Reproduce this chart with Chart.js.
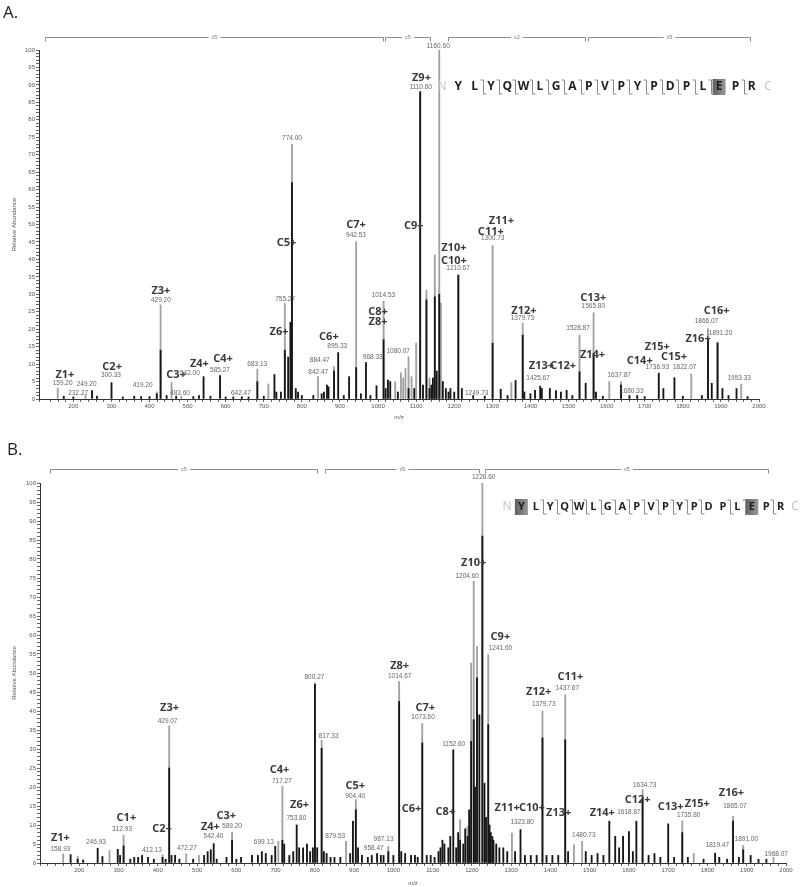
<!DOCTYPE html>
<html>
<head>
<meta charset="utf-8">
<script src="https://cdn.jsdelivr.net/npm/chart.js@4.4.1/dist/chart.umd.min.js"></script>
<style>
body { margin: 0; background: #fff; font-family: "Open Sans", sans-serif; }
#page { position: relative; width: 800px; height: 887px; overflow: hidden; }
.panel { position: absolute; left: 0; width: 800px; }
.tag { position: absolute; font-size: 17px; color: #222; z-index: 2; }
</style>
</head>
<body>
<div id="page">
  <div class="panel" style="top:0;height:430px"><canvas id="specA" width="800" height="430"></canvas></div>
  <div class="panel" style="top:440px;height:447px"><canvas id="specB" width="800" height="447"></canvas></div>
  <div class="tag" style="left:3px;top:0px">A.</div>
  <div class="tag" style="left:7px;top:437px">B.</div>
</div>
<script>
// peaks: [m/z, grey stick height, black profile height] in % relative abundance
const peaksA = [
  [159.2, 3.1, 0], [175, 0, 0.8], [200, 0, 0.6], [232.27, 1.2, 0], [249.2, 0, 2.4], [262, 0, 0.8],
  [300.33, 0, 4.7], [330, 0, 0.6], [360, 0, 0.8], [378, 0, 0.7], [400, 0, 0.7], [419.2, 2.0, 1.5],
  [429.2, 27, 14], [445, 0, 1], [458, 4.7, 0], [470, 0, 0.8], [483.6, 0.8, 0], [515, 0, 0.7],
  [530, 0, 1], [542.0, 0, 6.4], [560, 0, 0.8], [585.27, 0, 6.7], [600, 0, 0.6], [620, 0, 0.6],
  [642.47, 0.8, 0.5], [660, 0, 0.6], [683.13, 8.6, 5], [700, 0, 0.8], [712, 4.3, 0], [728, 0, 7],
  [733, 0, 2], [745, 0, 2], [755.27, 27.4, 14], [764, 0, 12], [770, 0, 22], [774.0, 73, 62],
  [784, 0, 3], [790, 0, 2], [800, 0, 1], [830, 0, 1], [842.47, 6.4, 0], [852, 0, 1.5], [858, 0, 2],
  [866, 0, 4], [870, 0, 3.5], [884.47, 9.3, 8], [895.33, 0, 13.3], [910, 0, 1], [924, 0, 6.4],
  [942.53, 45, 9], [955, 0, 1.5], [968.33, 0, 10.4], [980, 0, 1], [996, 0, 3.8], [1014.53, 28, 17],
  [1020, 0, 3], [1026, 0, 5.4], [1032, 0, 5], [1045, 5, 0], [1052, 0, 2], [1060, 7.5, 0], [1066, 6, 0],
  [1072, 8.8, 0], [1080.07, 12.1, 3], [1088, 6.4, 0], [1095, 0, 3], [1100, 16, 0], [1110.6, 88, 88],
  [1118, 0, 4], [1127, 31.2, 28.4], [1135, 6, 3], [1140, 0, 4], [1144, 0, 6], [1149, 41.3, 29.3],
  [1154, 0, 8], [1160.6, 100, 30], [1165, 27.5, 0], [1170, 0, 5], [1178, 0, 3], [1185, 0, 2],
  [1190, 0, 3], [1200, 0, 2], [1210.67, 35.5, 35.5], [1220, 0, 3], [1249.73, 0, 1], [1280, 0, 0.8],
  [1300.73, 44, 16], [1322, 0, 2.8], [1340, 0, 1], [1350, 4.7, 0], [1361, 0, 5.3],
  [1379.73, 21.7, 18.3], [1384, 0, 2], [1400, 0, 1.5], [1412, 0, 2.5], [1425.67, 0, 3.7], [1430, 0, 3],
  [1451, 0, 3], [1467, 0, 2.4], [1480, 0, 2], [1495, 0, 2.5], [1510, 0, 1], [1528.87, 18.3, 7.8],
  [1545, 0, 4.5], [1565.8, 24.7, 13.1], [1572, 0, 2], [1590, 0, 0.8], [1607, 5, 0], [1637.87, 5, 4],
  [1660, 0, 1], [1680.33, 0, 1], [1700, 0, 0.7], [1736.93, 0, 7.4], [1749, 0, 3], [1778, 0, 6.1],
  [1800, 0, 0.8], [1822.07, 7.2, 0], [1850, 0, 1], [1866.07, 20.2, 17], [1876, 0, 4.5],
  [1891.2, 16.4, 16], [1904, 0, 3], [1920, 0, 1], [1941, 0, 3], [1953.33, 4.3, 0], [1970, 0, 0.7]
];

const peaksB = [
  [158.93, 2.4, 0], [178, 0, 2.2], [196, 1.8, 1], [210, 0, 0.8], [246.93, 0, 3.9], [259, 0, 1.7],
  [277, 3.3, 0], [298, 0, 3.6], [304, 0, 2], [312.93, 7.3, 4.5], [330, 0, 1], [340, 0, 1.5],
  [350, 0, 1.5], [360, 0, 2], [375, 0, 1.5], [390, 0, 1], [412.13, 2.2, 1.5], [420, 0, 1],
  [429.07, 36.1, 25], [435, 0, 2], [444, 0, 2], [455, 0, 1], [472.27, 2.4, 0], [490, 0, 1],
  [505, 2, 0], [518, 0, 2], [527, 0, 3], [535, 0, 3.5], [542.4, 0, 5.1], [550, 0, 1], [575, 0, 1.5],
  [589.2, 8.1, 6], [600, 0, 1], [612, 0, 1.5], [640, 0, 2], [655, 0, 2], [665, 0, 3], [675, 0, 2.5],
  [690, 0, 2], [699.13, 0, 4.4], [707, 5.7, 0], [717.27, 20.2, 6], [722, 0, 5], [735, 0, 2],
  [745, 0, 3], [753.8, 0, 10], [760, 0, 4], [770, 0, 4], [780, 0, 5], [788, 0, 3], [795, 0, 4],
  [800.27, 47.4, 47], [806, 0, 4], [817.33, 32.3, 30.2], [823, 0, 3], [830, 0, 2.5], [840, 0, 1.5],
  [850, 0, 1.5], [865, 0, 1.5], [879.53, 5.7, 0], [890, 0, 2.5], [897, 0, 11], [904.4, 16.7, 14],
  [910, 0, 4], [920, 0, 2], [935, 0, 1.5], [945, 0, 2], [958.47, 0, 2.5], [968, 0, 2], [975, 0, 2],
  [987.13, 4.4, 3], [1000, 0, 2], [1014.67, 47.8, 42.5], [1020, 0, 3], [1030, 0, 2.5], [1045, 0, 2],
  [1055, 0, 2], [1062, 0, 1.5], [1073.6, 36.7, 31.6], [1085, 0, 2], [1095, 0, 2], [1105, 0, 1.5],
  [1115, 0, 3], [1120, 0, 4], [1125, 0, 6], [1130, 0, 5], [1140, 0, 4], [1145, 0, 7], [1152.6, 0, 29.8],
  [1160, 0, 4], [1165, 0, 8], [1170, 11.4, 6], [1178, 0, 5], [1183, 0, 9], [1189, 9.6, 7],
  [1193, 0, 14], [1198, 52.6, 32], [1204.6, 74.1, 37.7], [1208, 0, 20], [1213, 57, 48.7], [1219, 0, 39],
  [1226.6, 100, 86], [1232, 0, 21], [1236, 0, 12], [1241.6, 54.8, 36.4], [1245, 0, 10], [1248, 0, 8],
  [1252, 0, 7], [1255, 0, 6], [1262, 0, 5], [1270, 0, 4], [1280, 0, 4], [1290, 0, 3], [1302, 7.9, 0],
  [1310, 0, 3], [1323.8, 0, 8.8], [1335, 0, 2], [1350, 0, 2], [1365, 0, 2], [1379.73, 39.9, 32.9],
  [1390, 0, 2], [1405, 0, 2], [1420, 0, 2], [1437.67, 44.3, 32.4], [1445, 0, 3], [1460, 4.8, 0],
  [1480.73, 5.7, 0], [1490, 0, 3], [1505, 0, 2], [1520, 0, 2.5], [1535, 0, 2], [1550, 0, 11],
  [1565, 0, 7], [1575, 0, 4], [1585, 0, 7], [1600, 0, 8.3], [1610, 0, 3], [1618.87, 0, 11],
  [1634.73, 19.3, 17], [1650, 0, 2], [1665, 0, 2.5], [1680, 0, 1.5], [1700, 0, 10.3], [1715, 0, 1.5],
  [1735.8, 11.1, 8], [1750, 0, 1.5], [1765, 2.5, 0], [1790, 0, 1], [1819.47, 0, 2.6], [1830, 0, 1.5],
  [1850, 0, 1], [1865.07, 12.3, 11], [1880, 0, 1.5], [1891.0, 4.6, 3.5], [1910, 0, 2], [1930, 0, 1],
  [1950, 0, 1], [1968.07, 1.5, 0]
];

// fragment ion names: [text, m/z anchor, abundance anchor]
const ionsA = [
  ['Z1+', 178, 6.9], ['C2+', 302, 9.2], ['Z3+', 430, 31], ['C3+', 470, 6.9], ['Z4+', 531, 10],
  ['C4+', 593, 11.5], ['Z6+', 740, 19.2], ['C5+', 760, 44.8], ['C6+', 871, 17.7], ['C7+', 942, 50],
  ['C8+', 1000, 25], ['Z8+', 1000, 22.2], ['Z9+', 1114, 91.9], ['C9+', 1094, 49.7], ['Z10+', 1199, 43.2],
  ['C10+', 1199, 39.6], ['Z11+', 1324, 51.1], ['C11+', 1296, 48], ['Z12+', 1383, 25.3], ['Z13+', 1429, 9.5],
  ['C12+', 1486, 9.5], ['C13+', 1565, 29.1], ['Z14+', 1563, 12.6], ['C14+', 1687, 11], ['Z15+', 1733, 15],
  ['C15+', 1777, 12.1], ['Z16+', 1840, 17.2], ['C16+', 1889, 25.2]
];
const mzTagsA = [
  ['159.20', 172, 4.5], ['232.27', 213, 1.6], ['249.20', 235, 4.2], ['300.33', 299, 6.8], ['419.20', 382, 3.9],
  ['429.20', 430, 28.4], ['483.60', 480, 1.8], ['542.00', 506, 7.5], ['585.27', 585, 8.3], ['642.47', 640, 1.8],
  ['683.13', 683, 10], ['755.27', 756, 28.7], ['774.00', 774, 74.7], ['842.47', 843, 7.7], ['884.47', 847, 11.2],
  ['895.33', 893, 15], ['942.53', 942, 46.8], ['968.33', 986, 12.1], ['1014.53', 1014, 29.6],
  ['1080.07', 1053, 13.6], ['1110.60', 1112, 89.3], ['1160.60', 1158, 101.2], ['1210.67', 1210, 37.4],
  ['1249.73', 1259, 1.6], ['1300.73', 1301, 46], ['1379.73', 1379, 23.1], ['1425.67', 1420, 5.9],
  ['1528.87', 1525, 20.3], ['1565.80', 1565, 26.6], ['1637.87', 1633, 6.9], ['1680.33', 1666, 2.1],
  ['1736.93', 1733, 9], ['1822.07', 1805, 9], ['1866.07', 1862, 22.2], ['1891.20', 1899, 18.8],
  ['1953.33', 1948, 5.9]
];
const ionsB = [
  ['Z1+', 152, 6.7], ['C1+', 320, 11.8], ['C2+', 411, 8.9], ['Z3+', 430, 40.8], ['Z4+', 534, 9.6],
  ['C3+', 574.5, 12.4], ['C4+', 710, 24.6], ['Z6+', 761, 15.3], ['C5+', 903, 20.2], ['Z8+', 1016, 51.9],
  ['C7+', 1081.5, 40.9], ['C6+', 1046, 14.2], ['C8+', 1132.5, 13.4], ['Z10+', 1204.6, 78.9],
  ['C9+', 1272.6, 59.6], ['Z11+', 1290, 14.5], ['C10+', 1353, 14.5], ['Z13+', 1421, 13.3],
  ['Z12+', 1370, 45], ['C11+', 1451, 49], ['Z14+', 1532, 13.3], ['C12+', 1622, 16.7],
  ['C13+', 1706, 14.7], ['Z15+', 1774, 15.5], ['Z16+', 1861, 18.4]
];
const mzTagsB = [
  ['158.93', 152, 3.7], ['246.93', 242.5, 5.4], ['312.93', 309, 8.8], ['412.13', 385, 3.3],
  ['429.07', 425, 37.3], ['472.27', 474, 3.9], ['542.40', 542, 7], ['589.20', 589, 9.6],
  ['699.13', 670, 5.4], ['717.27', 716, 21.5], ['753.80', 753, 11.8], ['800.27', 799, 48.8],
  ['817.33', 835, 33.3], ['879.53', 852, 7], ['904.40', 903, 17.7], ['958.47', 950, 3.8],
  ['987.13', 975, 6.3], ['1014.67', 1016, 49.1], ['1073.60', 1075.6, 38.3], ['1152.60', 1153.6, 31.3],
  ['1204.60', 1188, 75.4], ['1226.60', 1230, 101.6], ['1241.60', 1272.6, 56.6], ['1323.80', 1328, 10.7],
  ['1379.73', 1383, 41.9], ['1437.67', 1443, 46.1], ['1480.73', 1485, 7.2], ['1618.87', 1600, 13.3],
  ['1634.73', 1640, 20.4], ['1735.80', 1752, 12.5], ['1865.07', 1870, 14.9], ['1819.47', 1825, 4.6],
  ['1891.00', 1899, 6.3], ['1968.07', 1975, 2.2]
];

// magnification ranges shown over the spectra
const rangesA = [[126, 1013, 'x5'], [1018, 1136, 'x5'], [1183, 1543, 'x2'], [1551, 1976, 'x5']];
const rangesB = [[126, 806, 'x5'], [827, 1217, 'x5'], [1234, 1953, 'x5']];

// peptide sequence, cleavage sites (after residue n) and modified residues
const residues = ['Y', 'L', 'Y', 'Q', 'W', 'L', 'G', 'A', 'P', 'V', 'P', 'Y', 'P', 'D', 'P', 'L', 'E', 'P', 'R'];
const cutsA = [2, 3, 4, 5, 6, 7, 8, 9, 10, 11, 12, 13, 14, 15, 16, 18];
const cutsB = [2, 3, 4, 5, 6, 7, 8, 9, 10, 11, 12, 13, 15, 16, 18];
const modsA = [17];
const modsB = [1, 17];

function notesPlugin(ions, tags, ranges, seq) {
    return {
        id: 'notes',
        afterDraw(chart) {
            const ctx = chart.ctx;
            const x = chart.scales.x, y = chart.scales.y;
            ctx.save();
            ctx.textAlign = 'center';
            ctx.textBaseline = 'middle';

            // range brackets
            ctx.strokeStyle = '#8c8c8c';
            ctx.lineWidth = 1;
            ctx.font = '5.5px "Liberation Sans"';
            ctx.fillStyle = '#777';
            ranges.forEach(([a, b, txt]) => {
                const x1 = Math.round(x.getPixelForValue(a)) + 0.5;
                const x2 = Math.round(x.getPixelForValue(b)) + 0.5;
                const yy = seq.bracketY + 0.5;
                const xm = (x1 + x2) / 2;
                const w = ctx.measureText(txt).width / 2 + 3;
                ctx.beginPath();
                ctx.moveTo(x1, yy + 4); ctx.lineTo(x1, yy); ctx.lineTo(xm - w, yy);
                ctx.moveTo(xm + w, yy); ctx.lineTo(x2, yy); ctx.lineTo(x2, yy + 4);
                ctx.stroke();
                ctx.fillText(txt, xm, yy);
            });

            // m/z values
            ctx.font = '6.5px "Liberation Sans"';
            ctx.fillStyle = '#666';
            tags.forEach(([txt, mz, v]) => {
                ctx.fillText(txt, x.getPixelForValue(mz), y.getPixelForValue(v));
            });

            // ion names
            ctx.font = 'bold 11px "Open Sans"';
            ctx.fillStyle = '#3a3a3a';
            ions.forEach(([txt, mz, v]) => {
                ctx.fillText(txt, x.getPixelForValue(mz), y.getPixelForValue(v));
            });

            // sequence
            const sx = k => seq.x0 + k * seq.step;
            seq.mods.forEach(i => {
                const g = ctx.createLinearGradient(sx(i) - 7, 0, sx(i) + 7, 0);
                g.addColorStop(0, '#5e5e5e');
                g.addColorStop(1, '#9a9a9a');
                ctx.fillStyle = g;
                ctx.fillRect(sx(i) - 6.5, seq.y - 8, 13, 16);
            });
            ctx.font = '12px "Open Sans"';
            ctx.fillStyle = '#c4c4c4';
            ctx.fillText('N', sx(0), seq.y);
            ctx.fillText('C', sx(residues.length + 1), seq.y);
            ctx.font = 'bold ' + seq.size + 'px "Open Sans"';
            ctx.fillStyle = '#1e1e1e';
            residues.forEach((r, i) => ctx.fillText(r, sx(i + 1), seq.y));
            ctx.strokeStyle = '#8a8a8a';
            ctx.lineWidth = 1;
            seq.cuts.forEach(n => {
                const cx = Math.round(sx(n + 0.5)) + 0.5;
                ctx.beginPath();
                ctx.moveTo(cx - 3, seq.y - 7); ctx.lineTo(cx, seq.y - 7);
                ctx.lineTo(cx, seq.y + 7); ctx.lineTo(cx + 3, seq.y + 7);
                ctx.stroke();
            });
            ctx.restore();
        }
    };
}

function buildSpectrum(id, peaks, ions, tags, ranges, cfg) {
    const black = peaks.filter(p => p[2] > 0).map(p => ({x: p[0], y: p[2]}));
    const grey = peaks.filter(p => p[1] > 0).map(p => ({x: p[0], y: p[1]}));
    const tickFont = {family: 'Liberation Sans', size: 6};
    return new Chart(document.getElementById(id), {
        type: 'bar',
        data: {
            datasets: [
                {data: black, backgroundColor: '#161616', barThickness: 1.2, grouped: false},
                {data: grey, backgroundColor: '#a2a2a2', barThickness: 1.2, grouped: false}
            ]
        },
        options: {
            responsive: false,
            animation: false,
            layout: {padding: cfg.pad},
            plugins: {legend: {display: false}, tooltip: {enabled: false}},
            scales: {
                x: {
                    type: 'linear', min: cfg.xmin, max: 2000, offset: false,
                    afterFit: s => { s.height = cfg.xh; },
                    ticks: {
                        stepSize: 20, autoSkip: false, maxRotation: 0, minRotation: 0,
                        font: tickFont, color: '#555', padding: 1,
                        callback: v => (v % 100 === 0 && v >= 200) ? v : ''
                    },
                    grid: {drawOnChartArea: false, offset: false, tickLength: 3, color: '#666'},
                    border: {color: '#333'},
                    title: {display: true, text: 'm/z', font: tickFont, color: '#555', padding: 0}
                },
                y: {
                    min: 0, max: 100,
                    afterFit: s => { s.width = cfg.yw; },
                    ticks: {
                        stepSize: 1, autoSkip: false, font: tickFont, color: '#555', padding: 1,
                        callback: v => v % 5 === 0 ? v : ''
                    },
                    grid: {drawOnChartArea: false, tickLength: 3, color: '#666'},
                    border: {color: '#333'},
                    title: {display: true, text: 'Relative Abundance', font: tickFont, color: '#555',
                            padding: {top: 11, bottom: 0}}
                }
            }
        },
        plugins: [notesPlugin(ions, tags, ranges, cfg.seq)]
    });
}

buildSpectrum('specA', peaksA, ionsA, mzTagsA, rangesA, {
    xmin: 110, xh: 22, yw: 39,
    pad: {left: 0, right: 41, top: 50, bottom: 9},
    seq: {x0: 442, step: 16.3, y: 87, size: 12, bracketY: 37, cuts: cutsA, mods: modsA}
});
buildSpectrum('specB', peaksB, ionsB, mzTagsB, rangesB, {
    xmin: 100, xh: 24, yw: 40,
    pad: {left: 0, right: 14, top: 43, bottom: 0},
    seq: {x0: 507, step: 14.4, y: 67, size: 11, bracketY: 29, cuts: cutsB, mods: modsB}
});
</script>
</body>
</html>
